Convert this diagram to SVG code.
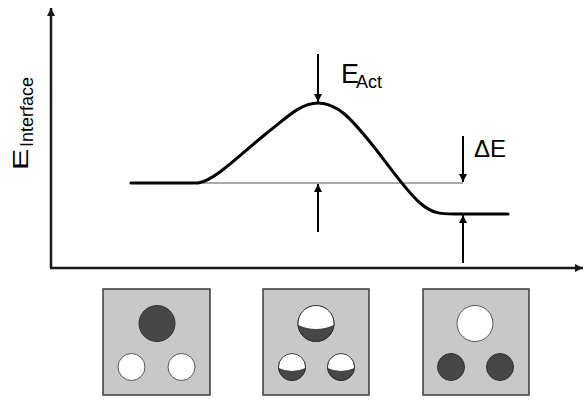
<svg xmlns="http://www.w3.org/2000/svg" width="584" height="400" viewBox="0 0 584 400">
<style>
.axis{stroke:#1a1a1a;stroke-width:2.5;fill:none}
.curve{stroke:#000;stroke-width:3;fill:none;stroke-linejoin:round;stroke-linecap:round}
.thin{stroke:#555;stroke-width:1;fill:none}
.arr{stroke:#000;stroke-width:2;fill:none}
.lbl{font-family:"Liberation Sans",Arial,sans-serif;fill:#000}
.box{fill:#c8c8c8;stroke:#3a3a3a;stroke-width:1.5}
.dark{fill:#474747;stroke:#333;stroke-width:1}
.light{fill:#fff;stroke:#555;stroke-width:1}
.cap{fill:#fff;stroke:none}
.rim{fill:none;stroke:#333;stroke-width:1}
</style>
<defs>
<marker id="ah" viewBox="0 0 10 10" refX="10" refY="5" markerWidth="4" markerHeight="4" orient="auto" markerUnits="strokeWidth">
<path d="M0,0 L10,5 L0,10 Z" fill="#000"/>
</marker>
<marker id="axh" viewBox="0 0 10 10" refX="10" refY="5" markerWidth="3.2" markerHeight="3.2" orient="auto" markerUnits="strokeWidth">
<path d="M0,0 L10,5 L0,10 Z" fill="#1a1a1a"/>
</marker>
</defs>
<g id="axes">
<line class="axis" x1="51" y1="268" x2="51" y2="8" marker-end="url(#axh)"/>
<line class="axis" x1="50" y1="268" x2="583" y2="268" marker-end="url(#axh)"/>
</g>
<g id="ylabel">
<text class="lbl" font-size="22" transform="translate(28,170) rotate(-90) scale(1.45,1)">E</text>
<text class="lbl" font-size="18" transform="translate(33,147) rotate(-90)">Interface</text>
</g>
<g id="energy-curve">
<line class="thin" x1="198" y1="183" x2="463" y2="183"/>
<path class="curve" d="M131,183 L198,183 C215,181 245,150 267,133 C285,119 300,103 318,103 C338,103 352,120 370,142 C388,164 405,190 420,203 C432,213.4 440,214 455,214 L508,214"/>
</g>
<g id="connectors">
<line class="arr" x1="318" y1="54" x2="318" y2="102" marker-end="url(#ah)"/>
<line class="arr" x1="318" y1="232" x2="318" y2="184" marker-end="url(#ah)"/>
<line class="arr" x1="463" y1="136" x2="463" y2="182" marker-end="url(#ah)"/>
<line class="arr" x1="463" y1="263" x2="463" y2="215" marker-end="url(#ah)"/>
</g>
<g id="label-eact">
<text class="lbl" x="341" y="83" font-size="27">E</text>
<text class="lbl" x="356" y="88" font-size="18">Act</text>
</g>
<g id="label-de">
<text class="lbl" x="474" y="157" font-size="24">ΔE</text>
</g>
<g id="state1">
<rect class="box" x="103" y="289" width="107" height="106"/>
<circle class="dark" cx="157" cy="323.5" r="18"/>
<circle class="light" cx="131.5" cy="367" r="13.5"/>
<circle class="light" cx="181.5" cy="367" r="13.5"/>
</g>
<g id="state2">
<rect class="box" x="263" y="289" width="106" height="106"/>
<circle class="dark" cx="316" cy="323.5" r="18"/>
<path class="cap" d="M298.1,325 A18,18 0 1 1 333.9,325 Q316,333 298.1,325 Z"/>
<circle class="rim" cx="316" cy="323.5" r="18"/>
<circle class="dark" cx="292" cy="367" r="13.5"/>
<path class="cap" d="M278.6,368 A13.5,13.5 0 1 1 305.4,368 Q292,374 278.6,368 Z"/>
<circle class="rim" cx="292" cy="367" r="13.5"/>
<circle class="dark" cx="341" cy="367" r="13.5"/>
<path class="cap" d="M327.6,368 A13.5,13.5 0 1 1 354.4,368 Q341,374 327.6,368 Z"/>
<circle class="rim" cx="341" cy="367" r="13.5"/>
</g>
<g id="state3">
<rect class="box" x="423" y="289" width="106" height="106"/>
<circle class="light" cx="475" cy="323.5" r="18"/>
<circle class="dark" cx="451" cy="367" r="13.5"/>
<circle class="dark" cx="500" cy="367" r="13.5"/>
</g>
</svg>
